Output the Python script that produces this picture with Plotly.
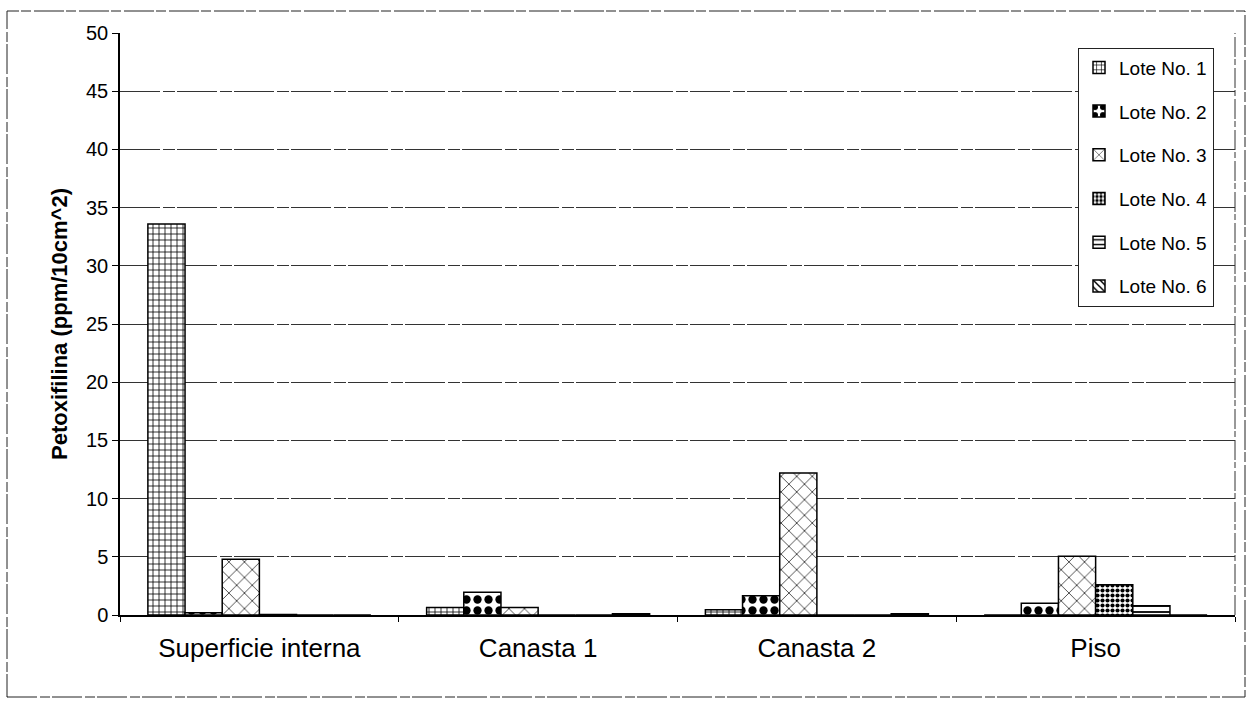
import plotly.graph_objects as go

# Sampling sites and residual petoxifilina per lot (ppm/10cm^2)
categories = ["Superficie interna", "Canasta 1", "Canasta 2", "Piso"]
lote1 = [33.6, 0.65, 0.45, 0.0]
lote2 = [0.2, 1.95, 1.65, 1.0]
lote3 = [4.8, 0.65, 12.2, 5.05]
lote4 = [0.05, 0.0, 0.0, 2.6]
lote5 = [0.0, 0.0, 0.0, 0.8]
lote6 = [0.0, 0.1, 0.1, 0.0]

series_names = ["Lote No. 1", "Lote No. 2", "Lote No. 3",
                "Lote No. 4", "Lote No. 5", "Lote No. 6"]
series_values = [lote1, lote2, lote3, lote4, lote5, lote6]

y_ticks = [0, 5, 10, 15, 20, 25, 30, 35, 40, 45, 50]

# hatch style for each lot: (shape, size, solidity)
patterns = [
    ("+", 6, 0.25),
    (".", 11, 0.45),
    ("x", 11, 0.12),
    (".", 5, 0.55),
    ("-", 6, 0.3),
    ("\\", 6, 0.3),
]

FONT = "Liberation Sans, Arial, sans-serif"

fig = go.Figure()
for i, (name, vals) in enumerate(zip(series_names, series_values)):
    shape, size, solidity = patterns[i]
    fig.add_trace(go.Bar(
        name=name,
        x=categories,
        y=vals,
        legendgroup=name,
        marker=dict(
            color="white",
            line=dict(color="black", width=1.5),
            pattern=dict(shape=shape, size=size, solidity=solidity,
                         fgcolor="black", bgcolor="white", fillmode="replace"),
        ),
    ))

fig.update_layout(
    width=1250,
    height=705,
    barmode="group",
    bargap=0.2,
    bargroupgap=0,
    paper_bgcolor="white",
    plot_bgcolor="white",
    margin=dict(l=120, r=15, t=33, b=90),
    font=dict(family=FONT, color="black"),
    showlegend=True,
    legend=dict(
        x=(1078 - 120) / 1115, y=0.975, xanchor="left", yanchor="top",
        bgcolor="white", bordercolor="#222", borderwidth=1,
        font=dict(family=FONT, size=19, color="black"),
        traceorder="grouped", tracegroupgap=16,
        itemwidth=30,
    ),
    xaxis=dict(
        type="category",
        tickson="boundaries",
        ticks="outside", ticklen=5, tickcolor="black",
        showline=True, linecolor="black", linewidth=1.5,
        showgrid=False,
        tickfont=dict(family=FONT, size=26, color="black"),
        ticklabelstandoff=9,
    ),
    yaxis=dict(
        range=[0, 50],
        tickvals=y_ticks,
        ticks="outside", ticklen=6, tickcolor="black",
        showline=True, linecolor="black", linewidth=1.5,
        showgrid=True, gridcolor="#333", gridwidth=1,
        griddash="40px,3px,12px,2px",
        zeroline=False,
        tickfont=dict(family=FONT, size=20, color="black"),
        title=dict(text="<b>Petoxifilina (ppm/10cm^2)</b>",
                   font=dict(family=FONT, size=22, color="black"),
                   standoff=12),
    ),
    shapes=[
        # right edge of the plotting area
        dict(type="line", xref="paper", yref="paper", x0=1, x1=1, y0=0, y1=1,
             line=dict(color="#333", width=1, dash="20px,3px,6px,2px")),
        # outer chart frame
        dict(type="rect", xref="paper", yref="paper",
             x0=-113 / 1115, x1=1 + 10 / 1115, y0=-82 / 582, y1=1 + 22 / 582,
             line=dict(color="#222", width=1, dash="30px,3px,10px,2px")),
    ],
)

fig.write_html("out.html")
